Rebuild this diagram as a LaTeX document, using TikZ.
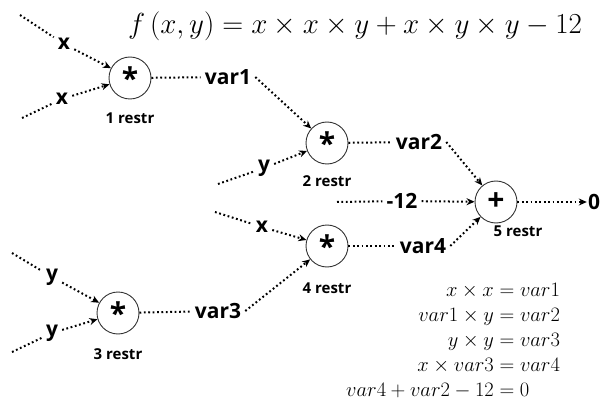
\RequirePackage{fix-cm}
\documentclass[tikz,border=0pt]{standalone}
\usepackage{amsmath,amssymb}
\usepackage[no-math]{fontspec}
\usepackage{tikz}
\usetikzlibrary{arrows.meta}
\newfontfamily\labelfont{Open Sans}

\begin{document}
\begin{tikzpicture}[
        x=1pt,y=-1pt,
        gate/.style={circle,draw=black!80,line width=0.9pt,minimum size=42pt,inner sep=0pt,
          font=\labelfont\bfseries\fontsize{30}{30}\selectfont},
        restr/.style={font=\labelfont\bfseries\fontsize{15}{15}\selectfont},
        wire/.style={line width=2pt,dash pattern=on 1.8pt off 2.6pt},
        into/.style={wire,-{Stealth[length=8pt,width=7pt]}},
        val/.style={inner sep=4pt,font=\labelfont\bfseries\fontsize{21}{21}\selectfont}
      ]
      \useasboundingbox (0,0) rectangle (602,406);
      % title
      \node (title) at (355,26) {\fontsize{29}{29}\selectfont $f\left(x,y\right)=x\times x\times y+x\times y\times y-12$};

      % gates
      \node (m1) [gate,label={[restr,label distance=10pt]below:1 restr}] at (130,78) {*};
      \node (m2) [gate,label={[restr,label distance=8pt]below:2 restr}] at (327,143) {*};
      \node (m3) [gate,label={[restr,label distance=11pt]below:3 restr}] at (118,313) {*};
      \node (m4) [gate,label={[restr,label distance=12pt]below:4 restr}] at (327,246) {*};
      \node (a5) [gate,label={[restr,label distance=-1pt,xshift=22pt]below:5 restr}] at (496,202) {+};

      % inputs and intermediate values
      \node (x1) [val] at (64,44) {x};
      \node (x2) [val] at (62,99) {x};
      \node (y3a) [val] at (52,277) {y};
      \node (y3b) [val] at (52,333) {y};
      \node (y2) [val] at (264,168) {y};
      \node (x4) [val] at (262,227) {x};
      \node (v1) [val] at (228,77) {var1};
      \node (v2) [val] at (419,142) {var2};
      \node (v3) [val] at (218,311) {var3};
      \node (v4) [val] at (423,246) {var4};
      \node (c12) [val] at (402,201) {-12};
      \node (out) [val,inner sep=1pt] at (594,202) {0};

      \coordinate (s1) at (20,15);
      \coordinate (s2) at (22,118);
      \coordinate (s3) at (218,184);
      \coordinate (s4) at (337,202);
      \coordinate (s5) at (215,212);
      \coordinate (s6) at (12,253);
      \coordinate (s7) at (12,352);

      % wires
      \draw [wire] (s1) -- (x1);
      \draw [wire] (s2) -- (x2);
      \draw [into] (x1) -- (m1);
      \draw [into] (x2) -- (m1);
      \draw [wire] (m1) -- (v1);
      \draw [into] (v1.east) -- (m2);
      \draw [wire] (s3) -- (y2);
      \draw [into] (y2) -- (m2);
      \draw [wire] (m2) -- (v2);
      \draw [into] (v2.east) -- (a5);
      \draw [wire] (s4) -- (c12);
      \draw [into] (c12) -- (a5);
      \draw [into] (a5) -- (out);
      \draw [wire] (s6) -- (y3a);
      \draw [wire] (s7) -- (y3b);
      \draw [into] (y3a) -- (m3);
      \draw [into] (y3b) -- (m3);
      \draw [wire] (m3) -- (v3);
      \draw [into] (v3.east) -- (m4);
      \draw [wire] (s5) -- (x4);
      \draw [into] (x4) -- (m4);
      \draw [wire] (m4) -- (v4);
      \draw [into] (v4.east) -- (a5);

      % constraints
      \node (eqs) [anchor=north west,inner sep=0pt] at (346,279) {\fontsize{20.5}{25}\selectfont\jot=0pt
        $\begin{aligned}
          x\times x &= var1\\
          var1\times y &= var2\\
          y\times y &= var3\\
          x\times var3 &= var4\\
          var4+var2-12 &= 0
        \end{aligned}$};
    \end{tikzpicture}
\end{document}
